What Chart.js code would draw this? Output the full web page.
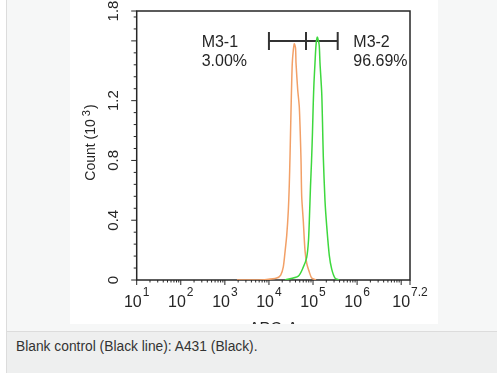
<!DOCTYPE html>
<html>
<head>
<meta charset="utf-8">
<title>Flow cytometry histogram</title>
<script src="https://cdn.jsdelivr.net/npm/chart.js@4.4.1/dist/chart.umd.min.js"></script>
<style>
  * { box-sizing: border-box; }
  html, body { margin: 0; padding: 0; background: #fff; }
  body { width: 497px; height: 373px; position: relative; overflow: hidden; font-family: "Liberation Sans", Arial, sans-serif; }
  .panel { position: absolute; left: 6px; top: 0; width: 491px; height: 332px; background: #f6f7f7; border-left: 1px solid #dcdcdc; border-bottom: 1px solid #dcdcdc; }
  .figure { position: absolute; left: 70px; top: 0; width: 368px; height: 324px; background: #fff; overflow: hidden; }
  .figure .inner { position: relative; width: 368px; height: 345px; }
  .caption { position: absolute; left: 6px; top: 332px; width: 491px; height: 41px; background: #eeefef; border-left: 1px solid #dcdcdc; }
  .caption p { margin: 0; position: absolute; left: 9px; top: 7px; font-size: 13.8px; line-height: 16px; color: #333; white-space: nowrap; }
</style>
</head>
<body>
<div class="panel"></div>
<div class="figure"><div class="inner"><canvas id="histChart"></canvas></div></div>
<div class="caption"><p>Blank control (Black line): A431 (Black).</p></div>

<script>
// --- Data ---
// blank control (orange trace): fluorescence intensity vs count (x10^3)
const controlIntensity = [1880, 4830, 8890, 15000, 18490, 21180, 23120, 25290, 27480, 28970, 30060, 31620, 32810, 33880,
  35730, 37580, 40090, 41110, 44870, 48870, 53330, 55340, 60120, 65770, 71940, 82410, 93330, 116950];
const controlCount = [0, 0, 0.003, 0.013, 0.033, 0.088, 0.185, 0.297, 0.462, 0.641, 0.826, 1.123, 1.321, 1.453,
  1.539, 1.581, 1.552, 1.453, 1.275, 1.156, 0.812, 0.561, 0.396, 0.198, 0.112, 0.053, 0.013, 0];

// A431 stained sample (green trace)
const sampleIntensity = [23120, 46350, 60120, 71940, 78890, 83180, 87700, 92470, 97270, 101390, 105200, 110900, 116950,
  125030, 133050, 138680, 143880, 157400, 164060, 171000, 187070, 204170, 233880, 265460, 315500, 388150];
const sampleCount = [0, 0.026, 0.086, 0.152, 0.264, 0.429, 0.628, 0.793, 0.991, 1.189, 1.321, 1.453, 1.572,
  1.625, 1.599, 1.566, 1.453, 1.255, 1.057, 0.826, 0.528, 0.363, 0.165, 0.073, 0.013, 0];

// gate markers
const gateEdges = [10000, 69300, 363000];
const gateLevel = 1.6;
const gateNames = ["M3-1", "M3-2"];
const gatePercents = ["3.00%", "96.69%"];

// axes
const X_MIN = 10;
const X_MAX = 15848932; // 10^7.2
const xTickValues = [1e1, 1e2, 1e3, 1e4, 1e5, 1e6, 1e7, X_MAX];
const xTickExponents = ["1", "2", "3", "4", "5", "6", "", "7.2"];
const yTickValues = [0, 0.4, 0.8, 1.2, 1.6, 1.8];
const yTickLabels = ["0", "0.4", "0.8", "1.2", "", "1.8"];
const xTitle = "APC-A";
const yTitle = "Count (10";
const yTitleSup = "3";

const ORANGE = "#f2a067";
const GREEN = "#3ed83e";
const INK = "#262626";
const FONT = '"Liberation Sans", Arial, sans-serif';

// --- tick builders ---
function buildXTicks() {
  const ticks = xTickValues.map(v => ({ value: v, major: true }));
  for (let d = 1; d <= 7; d++) {
    const base = Math.pow(10, d);
    for (let m = 2; m <= 9; m++) {
      if (base * m < X_MAX) ticks.push({ value: base * m, major: false });
    }
  }
  return ticks.sort((a, b) => a.value - b.value);
}

function buildYTicks() {
  const ticks = yTickValues.map(v => ({ value: v, major: true }));
  for (let i = 1; i < 23; i++) {
    const v = Math.round(i * 0.08 * 100) / 100;
    if (i % 5 !== 0) ticks.push({ value: v, major: false });
  }
  return ticks.sort((a, b) => a.value - b.value);
}

// --- frame, ticks and labels ---
const axesPlugin = {
  id: "cytoAxes",
  beforeDatasetsDraw(chart) {
    const { ctx, chartArea: a, scales: { x, y } } = chart;
    ctx.save();
    ctx.strokeStyle = INK;
    ctx.lineWidth = 1.5;
    ctx.strokeRect(a.left, a.top, a.right - a.left, a.bottom - a.top);

    ctx.lineWidth = 1;
    ctx.beginPath();
    x.ticks.forEach(t => {
      const px = x.getPixelForValue(t.value);
      ctx.moveTo(px, a.bottom);
      ctx.lineTo(px, a.bottom + (t.major ? 5 : 2.5));
    });
    y.ticks.forEach(t => {
      const py = y.getPixelForValue(t.value);
      ctx.moveTo(a.left, py);
      ctx.lineTo(a.left - (t.major ? 5.5 : 3), py);
    });
    ctx.stroke();
    ctx.restore();
  },
  afterDraw(chart) {
    const { ctx, chartArea: a, scales: { x, y } } = chart;
    ctx.save();
    ctx.fillStyle = INK;

    // x tick labels: 10 with raised exponent
    xTickValues.forEach((v, i) => {
      const exp = xTickExponents[i];
      if (!exp) return;
      const px = x.getPixelForValue(v);
      ctx.font = "16px " + FONT;
      const wb = ctx.measureText("10").width;
      ctx.font = "12px " + FONT;
      const we = ctx.measureText(exp).width;
      const start = px - (wb + 1 + we) / 2;
      ctx.textAlign = "left";
      ctx.textBaseline = "alphabetic";
      ctx.font = "16px " + FONT;
      ctx.fillText("10", start, a.bottom + 26.7);
      ctx.font = "12px " + FONT;
      ctx.fillText(exp, start + wb + 1, a.bottom + 15.8);
    });

    // y tick labels, rotated
    ctx.font = "15px " + FONT;
    ctx.textAlign = "center";
    ctx.textBaseline = "alphabetic";
    yTickValues.forEach((v, i) => {
      if (!yTickLabels[i]) return;
      const py = y.getPixelForValue(v);
      ctx.save();
      ctx.translate(a.left - 18.4, py);
      ctx.rotate(-Math.PI / 2);
      ctx.fillText(yTickLabels[i], 0, 0);
      ctx.restore();
    });

    // y title with superscript
    ctx.save();
    ctx.translate(a.left - 41.5, (a.top + a.bottom) / 2 - 3);
    ctx.rotate(-Math.PI / 2);
    ctx.textAlign = "left";
    ctx.font = "14px " + FONT;
    const w1 = ctx.measureText(yTitle).width;
    ctx.font = "11px " + FONT;
    const w2 = ctx.measureText(yTitleSup).width;
    ctx.font = "14px " + FONT;
    const w3 = ctx.measureText(")").width;
    const total = w1 + 3 + w2 + 1 + w3;
    let cx = -total / 2;
    ctx.fillText(yTitle, cx, 0);
    cx += w1 + 3;
    ctx.font = "11px " + FONT;
    ctx.fillText(yTitleSup, cx, -5);
    cx += w2 + 1;
    ctx.font = "14px " + FONT;
    ctx.fillText(")", cx, 0);
    ctx.restore();

    // x title (mostly cut off by the figure edge)
    ctx.font = "16px " + FONT;
    ctx.textAlign = "center";
    ctx.fillText(xTitle, (a.left + a.right) / 2, a.bottom + 53.5);

    // gate labels
    const gy = y.getPixelForValue(gateLevel);
    const gl = x.getPixelForValue(gateEdges[0]);
    const gr = x.getPixelForValue(gateEdges[2]);
    ctx.textAlign = "left";
    ctx.font = "16px " + FONT;
    ctx.fillText(gateNames[0], gl - 67.3, gy + 6.2);
    ctx.fillText(gatePercents[0], gl - 67.3, gy + 25.2);
    ctx.fillText(gateNames[1], gr + 15.6, gy + 6.2);
    ctx.fillText(gatePercents[1], gr + 15.6, gy + 25.2);
    ctx.restore();
  }
};

// --- chart ---
const ctx = document.getElementById("histChart").getContext("2d");
new Chart(ctx, {
  type: "line",
  data: {
    datasets: [
      {
        label: "A431",
        data: sampleIntensity.map((v, i) => ({ x: v, y: sampleCount[i] })),
        borderColor: GREEN,
        borderWidth: 1.5,
        pointRadius: 0,
        tension: 0.25,
      },
      {
        label: "Blank control",
        data: controlIntensity.map((v, i) => ({ x: v, y: controlCount[i] })),
        borderColor: ORANGE,
        borderWidth: 1.5,
        pointRadius: 0,
        tension: 0.25,
      },
      {
        label: "Gates",
        data: gateEdges.map(v => ({ x: v, y: gateLevel })),
        borderColor: "#333",
        borderWidth: 2,
        pointStyle: "line",
        pointRotation: 90,
        pointRadius: 9,
        pointBorderColor: "#333",
        pointBorderWidth: 2,
        tension: 0,
      },
    ],
  },
  options: {
    responsive: true,
    maintainAspectRatio: false,
    animation: false,
    layout: { padding: { top: 7.5, right: 28, left: 0, bottom: 0 } },
    plugins: { legend: { display: false }, tooltip: { enabled: false } },
    scales: {
      x: {
        type: "logarithmic",
        min: X_MIN,
        max: X_MAX,
        grid: { display: false },
        border: { display: false },
        ticks: { display: false },
        afterBuildTicks: s => { s.ticks = buildXTicks(); },
        afterFit: s => { s.height = 65; },
      },
      y: {
        min: 0,
        max: 1.8,
        grid: { display: false },
        border: { display: false },
        ticks: { display: false },
        afterBuildTicks: s => { s.ticks = buildYTicks(); },
        afterFit: s => { s.width = 66.7; },
      },
    },
  },
  plugins: [axesPlugin],
});
</script>
</body>
</html>
